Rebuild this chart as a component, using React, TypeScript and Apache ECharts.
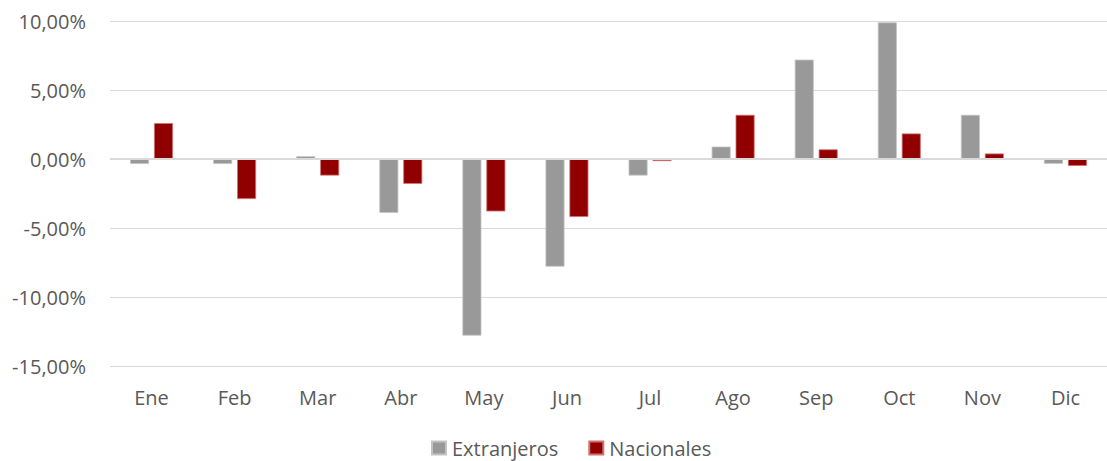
import React, { useEffect, useRef } from "react";
import * as echarts from "echarts";

const months = ["Ene", "Feb", "Mar", "Abr", "May", "Jun", "Jul", "Ago", "Sep", "Oct", "Nov", "Dic"];
const extranjeros = [-0.36, -0.36, 0.2, -3.9, -12.8, -7.8, -1.2, 0.9, 7.2, 9.9, 3.2, -0.35];
const nacionales = [2.6, -2.9, -1.2, -1.8, -3.8, -4.2, -0.15, 3.2, 0.7, 1.85, 0.4, -0.5];
const yMin = -15;
const yMax = 10;
const yStep = 5;

const FONT = "'Open Sans', sans-serif";

export default function App() {
  const ref = useRef<HTMLDivElement>(null);
  useEffect(() => {
    if (!ref.current) return;
    const chart = echarts.init(ref.current, null, { renderer: "svg" });
    chart.setOption({
      animation: false,
      textStyle: { fontFamily: FONT },
      grid: { left: 110, right: 0, top: 21, bottom: 95, containLabel: false },
      legend: {
        top: 438,
        left: 431,
        padding: 0,
        itemWidth: 14,
        itemHeight: 13,
        itemGap: 30,
        icon: "rect",
        textStyle: { fontFamily: FONT, fontSize: 20, lineHeight: 20, color: "#595959", padding: [0, 0, 0, 1] },
        data: ["Extranjeros", "Nacionales"],
      },
      xAxis: {
        type: "category",
        data: months,
        axisLine: { show: false, onZero: false },
        axisTick: { show: false },
        axisLabel: { color: "#595959", fontSize: 20, fontFamily: FONT, margin: 21 },
        splitLine: { show: false },
      },
      yAxis: {
        type: "value",
        min: yMin,
        max: yMax,
        interval: yStep,
        axisLine: { show: false },
        axisTick: { show: false },
        axisLabel: {
          color: "#595959",
          fontSize: 20,
          fontFamily: FONT,
          margin: 24,
          formatter: (v: number) => v.toFixed(2).replace(".", ",") + "%",
        },
        splitLine: { lineStyle: { color: "#d9d9d9", width: 1 } },
      },
      series: [
        {
          name: "Extranjeros",
          type: "bar",
          data: extranjeros,
          barWidth: 19,
          barGap: "26%",
          itemStyle: { color: "#999999", borderColor: "#c4c4c4", borderWidth: 0.8 },
          markLine: {
            silent: true,
            symbol: "none",
            label: { show: false },
            lineStyle: { color: "#d9d9d9", width: 2, type: "solid" },
            data: [{ yAxis: 0 }],
          },
          z: 2,
        },
        {
          name: "Nacionales",
          type: "bar",
          data: nacionales,
          barWidth: 19,
          itemStyle: { color: "#900000", borderColor: "#d07070", borderWidth: 0.8 },
          z: 2,
        },
      ],
    });
    return () => chart.dispose();
  }, []);
  return <div ref={ref} style={{ width: 1107, height: 461, position: "absolute", left: 0, top: 0 }} />;
}
